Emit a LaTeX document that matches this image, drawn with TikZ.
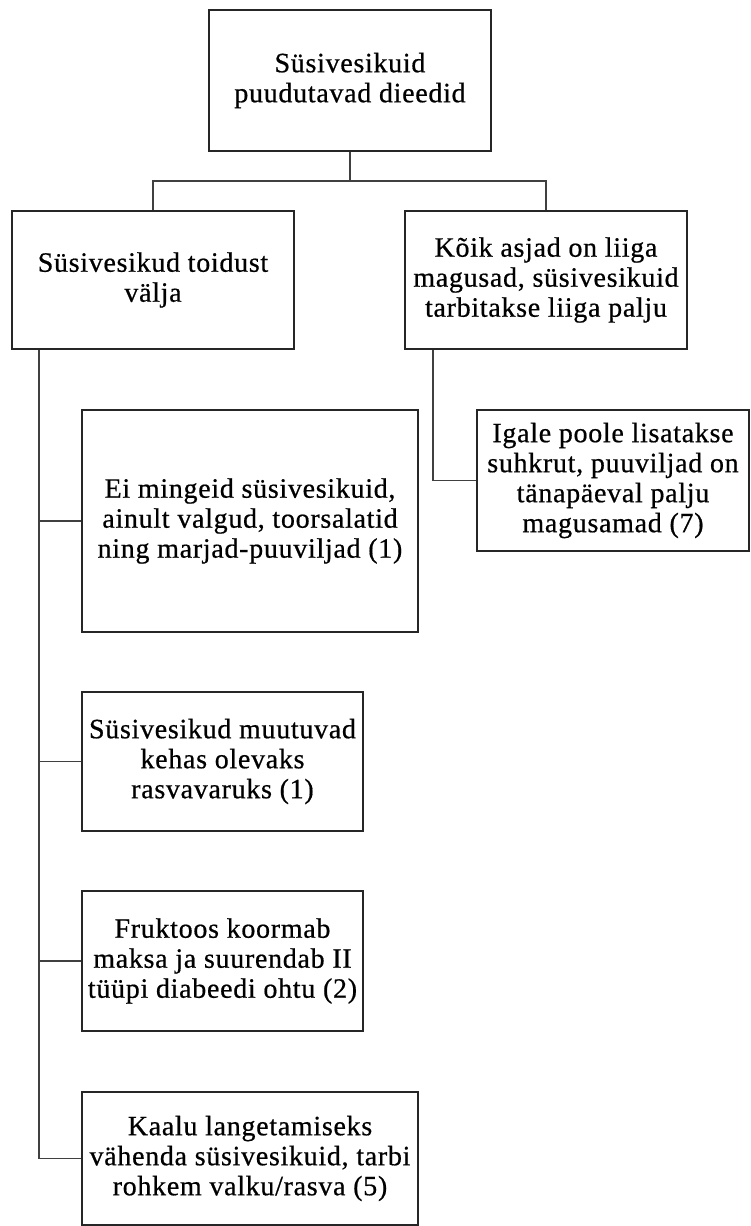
\documentclass[tikz,border=0pt]{standalone}
\usepackage{fontspec}
\setmainfont{Liberation Serif}[LetterSpace=2.5, FakeBold=0.6]
\usetikzlibrary{calc}
\begin{document}
\begin{tikzpicture}[x=1pt,y=1pt,
  box/.style={draw=black!85, line width=1.5pt, rectangle, inner sep=0pt, align=center,
    font=\fontsize{28}{30}\selectfont, text=black},
  conn/.style={draw=black!75, line width=1.6pt}]
\useasboundingbox (0,0) rectangle (751,-1226);
\node[box, minimum width=282, minimum height=141] (top) at (350,-80.5) {Süsivesikuid\\puudutavad dieedid};
\node[box, minimum width=282, minimum height=138] (left) at (153,-280) {Süsivesikud toidust\\välja};
\node[box, minimum width=282, minimum height=138] (right) at (546,-280) {Kõik asjad on liiga\\magusad, süsivesikuid\\tarbitakse liiga palju};
\node[box, minimum width=272, minimum height=141] (child) at (613,-480.5) {Igale poole lisatakse\\suhkrut, puuviljad on\\tänapäeval palju\\magusamad (7)};
\node[box, minimum width=336, minimum height=222] (b1) at (250,-521) {Ei mingeid süsivesikuid,\\ainult valgud, toorsalatid\\ning marjad-puuviljad (1)};
\node[box, minimum width=281, minimum height=139] (b2) at (222.5,-761.5) {Süsivesikud muutuvad\\kehas olevaks\\rasvavaruks (1)};
\node[box, minimum width=281, minimum height=140] (b3) at (222.5,-961) {Fruktoos koormab\\maksa ja suurendab II\\tüüpi diabeedi ohtu (2)};
\node[box, minimum width=336, minimum height=133] (b4) at (250,-1158.5) {Kaalu langetamiseks\\vähenda süsivesikuid, tarbi\\rohkem valku/rasva (5)};
\coordinate (mid) at ($(top.south)+(0,-29)$);
\coordinate (lv) at ($(left.south west)+(28,0)$);
\coordinate (rv) at ($(right.south west)+(29,0)$);
\draw[conn] (top.south) -- (mid) -| (left.north);
\draw[conn] (mid) -| (right.north);
\draw[conn] (rv) |- (child.west);
\draw[conn] (lv) |- (b1.west);
\draw[conn] (lv) |- (b2.west);
\draw[conn] (lv) |- (b3.west);
\draw[conn] (lv) |- (b4.west);
\end{tikzpicture}
\end{document}
